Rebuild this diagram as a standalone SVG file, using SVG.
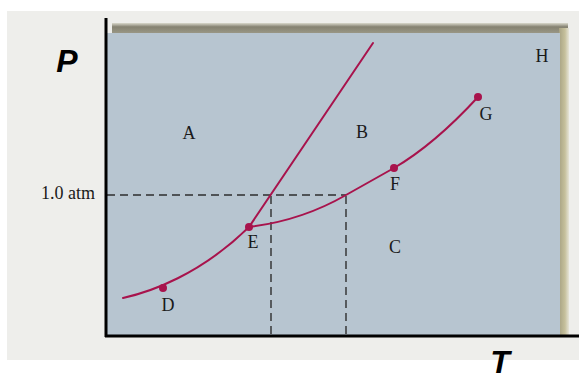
<svg xmlns="http://www.w3.org/2000/svg" width="579" height="380" viewBox="0 0 579 380">
  <defs>
    <style>
      .lbl { font-family: "Liberation Serif", "Times New Roman", serif; font-size: 18px; fill: #1a1a1a; }
      .axl { font-family: "Liberation Sans", Arial, sans-serif; font-size: 32px; font-weight: bold; font-style: italic; fill: #000; }
      .curve { fill: none; stroke: #a8134c; stroke-width: 2; stroke-linecap: round; }
      .dash { fill: none; stroke: #2e2e2e; stroke-width: 1.4; stroke-dasharray: 8 5; }
      .dot { fill: #a8134c; }
      .axis { stroke: #000; stroke-width: 3; fill: none; }
    </style>
    <linearGradient id="topShade" x1="0" y1="0" x2="0" y2="1">
      <stop offset="0" stop-color="#d9d8cc"/>
      <stop offset="0.35" stop-color="#858271"/>
      <stop offset="1" stop-color="#9c9a88"/>
    </linearGradient>
    <linearGradient id="rightShade" x1="0" y1="0" x2="1" y2="0">
      <stop offset="0" stop-color="#a8a384"/>
      <stop offset="0.6" stop-color="#c6c09c"/>
      <stop offset="1" stop-color="#e6e4d8"/>
    </linearGradient>
  </defs>

  <!-- page -->
  <rect x="0" y="0" width="579" height="380" fill="#ffffff"/>
  <rect x="7" y="11" width="572" height="349" fill="#eeeeeb"/>

  <!-- panel with shadows -->
  <g id="panel">
    <rect x="112" y="23" width="456" height="11" fill="url(#topShade)"/>
    <rect x="559" y="28" width="10" height="308" fill="url(#rightShade)"/>
    <rect x="107" y="33" width="453" height="303" fill="#b7c5d0"/>
  </g>

  <!-- connectors: dashed guides and phase boundaries -->
  <g id="connectors">
    <path class="dash" d="M107,195 H346"/>
    <path class="dash" d="M271,196 V335"/>
    <path class="dash" d="M346,196 V335"/>
    <path class="curve" d="M123,298 C150,292 200,275 249,227 L373,43"/>
    <path class="curve" d="M249,227 C290,222 320,210 346,195 C362,186 378,177 394,168 C425,150 455,122 478,97"/>
  </g>

  <!-- axes -->
  <g id="axes">
    <line class="axis" x1="106" y1="18" x2="106" y2="337"/>
    <line class="axis" x1="105" y1="336" x2="579" y2="336"/>
    <text class="axl" x="67" y="72" text-anchor="middle">P</text>
    <text class="axl" x="500" y="373" text-anchor="middle">T</text>
    <text class="lbl" x="95" y="199" text-anchor="end">1.0 atm</text>
  </g>

  <!-- region labels -->
  <g id="region-A"><text class="lbl" x="189" y="139" text-anchor="middle">A</text></g>
  <g id="region-B"><text class="lbl" x="362" y="138" text-anchor="middle">B</text></g>
  <g id="region-C"><text class="lbl" x="395" y="253" text-anchor="middle">C</text></g>
  <g id="region-H"><text class="lbl" x="542" y="62" text-anchor="middle">H</text></g>

  <!-- points -->
  <g id="point-D"><circle class="dot" cx="163" cy="288" r="4"/><text class="lbl" x="168" y="311" text-anchor="middle">D</text></g>
  <g id="point-E"><circle class="dot" cx="249" cy="227" r="4"/><text class="lbl" x="253" y="248" text-anchor="middle">E</text></g>
  <g id="point-F"><circle class="dot" cx="394" cy="168" r="4"/><text class="lbl" x="395" y="190" text-anchor="middle">F</text></g>
  <g id="point-G"><circle class="dot" cx="478" cy="97" r="4"/><text class="lbl" x="486" y="120" text-anchor="middle">G</text></g>
</svg>
